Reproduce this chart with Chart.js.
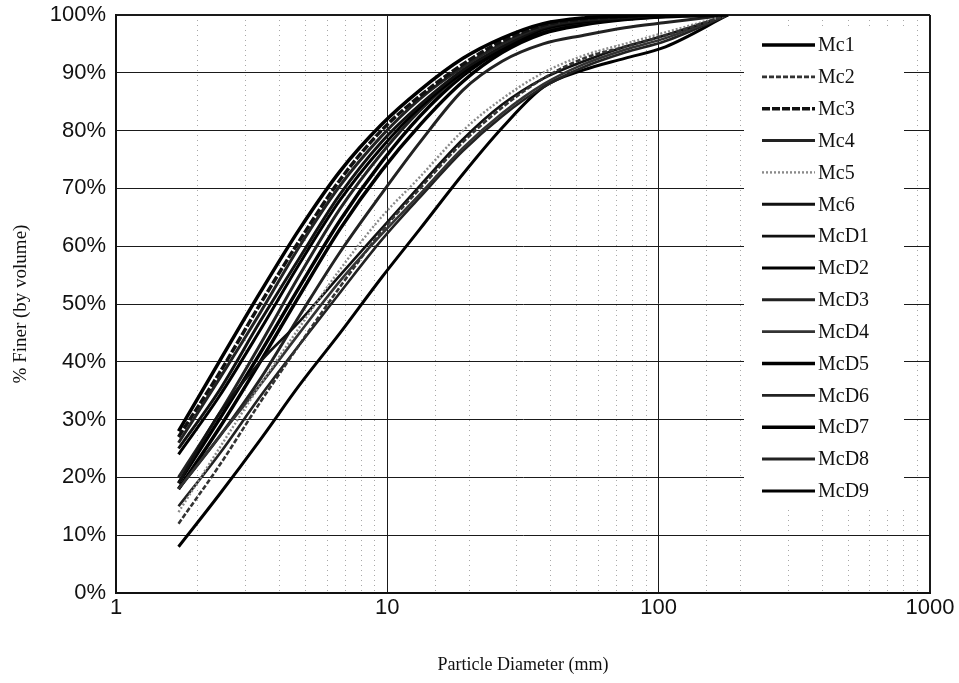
<!DOCTYPE html>
<html>
<head>
<meta charset="utf-8">
<script src="https://cdn.jsdelivr.net/npm/chart.js@4.4.0/dist/chart.umd.min.js"></script>
<style>
  html, body { margin: 0; padding: 0; background: #ffffff; }
  #wrap { width: 959px; height: 683px; position: relative; }
</style>
</head>
<body>
<div id="wrap"><canvas id="c"></canvas></div>
<script>
// Particle diameters (mm) and % finer for each sample
const diameters = [1.7, 2.4, 3.4, 4.75, 6.7, 9.5, 13.2, 19, 26.5, 37.5, 53, 75, 106, 180];

const mc1  = [28, 40, 52, 63, 73, 81, 87, 92.5, 96, 98.5, 99.5, 99.8, 100, 100];
const mc2  = [12, 22, 33, 43, 53, 62.5, 70, 78, 84, 89, 92.5, 94.5, 96.5, 100];
const mc3  = [27, 38, 50, 61, 71.5, 80, 86, 91.5, 95.5, 98.2, 99.3, 99.7, 100, 100];
const mc4  = [26, 37, 48.5, 60, 70.5, 79, 85.5, 91, 95, 98, 99.2, 99.6, 100, 100];
const mc5  = [14, 25, 36, 46, 56, 65, 72, 80, 85.5, 90, 93, 95, 97, 100];
const mc6  = [25, 35, 47, 58, 69, 78, 84.5, 90.5, 94.5, 97.8, 99, 99.5, 100, 100];
const mcD1 = [19, 31, 40, 47, 55, 63, 70.5, 78.5, 84.5, 89, 92, 94.5, 96.5, 100];
const mcD2 = [24, 34, 45.5, 57, 68, 77, 84, 90, 94, 97.5, 98.8, 99.4, 99.8, 100];
const mcD3 = [20, 31, 43, 55, 66.5, 76, 83.5, 90, 94.5, 97.5, 98.8, 99.5, 100, 100];
const mcD4 = [18, 27, 36, 45, 54, 62, 69, 77, 83, 88, 91.5, 94, 96, 100];
const mcD5 = [19, 30, 41.5, 53, 64.5, 74.5, 82.5, 89.5, 94, 97, 98.5, 99.3, 99.8, 100];
const mcD6 = [15, 24, 34, 43, 52, 61, 68.5, 76.5, 82.5, 87.5, 91, 93.5, 95.5, 100];
const mcD7 = [18, 28.5, 40, 51.5, 63, 73, 81, 88.5, 93.5, 96.8, 98.3, 99.2, 99.7, 100];
const mcD8 = [18, 27, 37, 48, 59, 69, 78, 87, 92, 95, 96.5, 97.8, 98.7, 100];
const mcD9 = [8, 17, 26.5, 36, 45, 54.5, 63, 72.5, 80.5, 87.5, 90.5, 92.5, 94.5, 100];

const seriesNames = ['Mc1','Mc2','Mc3','Mc4','Mc5','Mc6','McD1','McD2','McD3','McD4','McD5','McD6','McD7','McD8','McD9'];
const seriesValues = [mc1, mc2, mc3, mc4, mc5, mc6, mcD1, mcD2, mcD3, mcD4, mcD5, mcD6, mcD7, mcD8, mcD9];

const xTickLabels = [1, 10, 100, 1000];
const yTicksPercent = [0, 10, 20, 30, 40, 50, 60, 70, 80, 90, 100];

// styles (kept separate from data)
const styles = [
  {c:'#000', w:3.5, d:[]},
  {c:'#333', w:2.6, d:[5,2]},
  {c:'#111', w:3.5, d:[8,2]},
  {c:'#222', w:3,   d:[]},
  {c:'#8a8a8a', w:2.4, d:[2,2]},
  {c:'#111', w:3,   d:[]},
  {c:'#111', w:2.6, d:[]},
  {c:'#000', w:3,   d:[]},
  {c:'#222', w:3,   d:[]},
  {c:'#333', w:2.6, d:[]},
  {c:'#000', w:3.5, d:[]},
  {c:'#222', w:2.6, d:[]},
  {c:'#000', w:3.5, d:[]},
  {c:'#222', w:3,   d:[]},
  {c:'#000', w:3,   d:[]}
];

const datasets = seriesNames.map((name, i) => ({
  label: name,
  data: diameters.map((d, j) => ({x: d, y: seriesValues[i][j]})),
  borderColor: styles[i].c,
  borderWidth: styles[i].w,
  borderDash: styles[i].d,
  pointRadius: 0,
  fill: false,
  cubicInterpolationMode: 'monotone',
  xAxisID: 'x',
  yAxisID: 'y'
}));

function isPow10(v) {
  const l = Math.log10(v);
  return Math.abs(l - Math.round(l)) < 1e-9;
}

const insideLegend = {
  id: 'insideLegend',
  afterDatasetsDraw(chart) {
    const ctx = chart.ctx;
    const a = chart.chartArea;
    const boxL = a.right - 186, boxT = a.top + 13, boxR = a.right - 26, boxB = a.top + 492;
    ctx.save();
    ctx.fillStyle = '#ffffff';
    ctx.fillRect(boxL, boxT, boxR - boxL, boxB - boxT);
    ctx.font = '20px "Liberation Serif", "Times New Roman", serif';
    ctx.textBaseline = 'middle';
    ctx.fillStyle = '#111';
    chart.data.datasets.forEach((ds, i) => {
      const y = a.top + 30 + i * 31.85;
      ctx.beginPath();
      ctx.strokeStyle = ds.borderColor;
      ctx.lineWidth = ds.borderWidth;
      ctx.setLineDash(ds.borderDash || []);
      ctx.moveTo(a.right - 168, y);
      ctx.lineTo(a.right - 115, y);
      ctx.stroke();
      ctx.setLineDash([]);
      ctx.fillText(ds.label, a.right - 112, y + 1);
    });
    ctx.restore();
  }
};

new Chart(document.getElementById('c'), {
  type: 'line',
  data: { datasets },
  plugins: [insideLegend],
  options: {
    responsive: true,
    maintainAspectRatio: false,
    animation: false,
    layout: { padding: { top: 15, right: 29, left: 0, bottom: 0 } },
    plugins: { legend: { display: false }, tooltip: { enabled: false } },
    scales: {
      x: {
        type: 'logarithmic',
        position: 'bottom',
        min: 1, max: 1000,
        afterFit: s => { s.height = 90; s.paddingLeft = 0; s.paddingRight = 0; },
        grid: {
          drawTicks: false,
          color: ctx => (ctx.tick && isPow10(ctx.tick.value)) ? '#1a1a1a' : 'rgba(0,0,0,0)',
          lineWidth: ctx => (ctx.tick && (ctx.tick.value === 1000)) ? 2 : 1
        },
        border: { display: true, color: '#111', width: 2 },
        ticks: {
          autoSkip: false, maxRotation: 0, padding: 2,
          color: '#111',
          font: { family: '"Liberation Sans", Arial, sans-serif', size: 22 },
          callback: v => xTickLabels.includes(v) ? String(v) : ''
        },
        title: {
          display: true, text: 'Particle Diameter (mm)', color: '#111',
          font: { family: '"Liberation Serif", "Times New Roman", serif', size: 18 },
          padding: { top: 0, bottom: 7 }
        }
      },
      x2: {
        type: 'logarithmic',
        position: 'bottom',
        min: 1, max: 1000,
        afterFit: s => { s.height = 0; s.paddingLeft = 0; s.paddingRight = 0; },
        grid: {
          drawTicks: false,
          color: ctx => (ctx.tick && !isPow10(ctx.tick.value)) ? '#a8a8a8' : 'rgba(0,0,0,0)',
          lineWidth: 1
        },
        border: { display: false, dash: [1, 4] },
        ticks: { display: false, autoSkip: false }
      },
      y: {
        min: 0, max: 100,
        afterFit: s => { s.width = 116; s.paddingTop = 0; s.paddingBottom = 0; },
        afterBuildTicks: s => { s.ticks = yTicksPercent.map(v => ({value: v})); },
        grid: {
          drawTicks: false,
          color: '#1a1a1a',
          lineWidth: ctx => (ctx.tick && ctx.tick.value === 100) ? 2 : 1
        },
        border: { display: true, color: '#111', width: 2 },
        ticks: {
          padding: 10,
          color: '#111',
          font: { family: '"Liberation Sans", Arial, sans-serif', size: 22 },
          callback: v => v + '%'
        },
        title: {
          display: true, text: '% Finer (by volume)', color: '#111',
          font: { family: '"Liberation Serif", "Times New Roman", serif', size: 19 },
          padding: { top: 10, bottom: 0 }
        }
      }
    }
  }
});
</script>
</body>
</html>
